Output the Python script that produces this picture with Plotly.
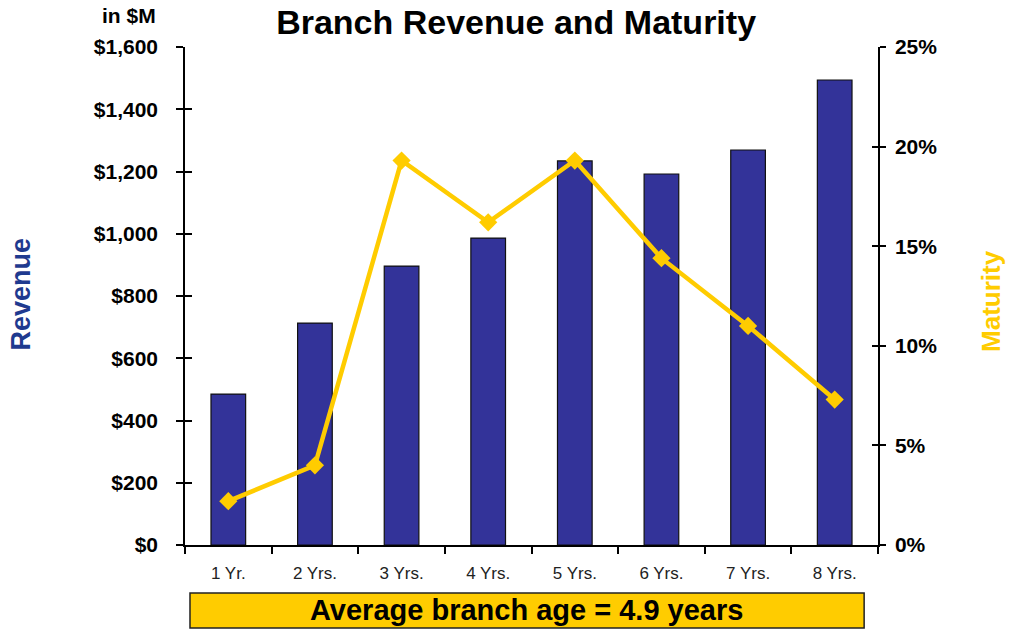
import plotly.graph_objects as go

# Branch age buckets, revenue ($M) and maturity share (%)
categories = ["1 Yr.", "2 Yrs.", "3 Yrs.", "4 Yrs.", "5 Yrs.", "6 Yrs.", "7 Yrs.", "8 Yrs."]
revenue = [485, 713, 896, 986, 1234, 1192, 1269, 1494]
maturity = [2.2, 4.0, 19.3, 16.2, 19.3, 14.4, 11.0, 7.3]
revenue_ticks = [0, 200, 400, 600, 800, 1000, 1200, 1400, 1600]
maturity_ticks = [0, 5, 10, 15, 20, 25]

BAR = "#333399"
GOLD = "#FFCC00"
NAVY = "#1F3A8F"
FONT = "Liberation Sans, Arial, sans-serif"

fig = go.Figure()
fig.add_trace(go.Bar(
    x=categories, y=revenue, width=0.4,
    marker=dict(color=BAR, line=dict(color="#111111", width=1.2)),
    yaxis="y", showlegend=False, hoverinfo="x+y",
))
fig.add_trace(go.Scatter(
    x=categories, y=maturity, mode="lines+markers",
    line=dict(color=GOLD, width=4.5),
    marker=dict(symbol="diamond", size=14, color=GOLD),
    yaxis="y2", showlegend=False,
))

tickfont = dict(family=FONT, size=21, color="#000000")

fig.update_layout(
    width=1010, height=631,
    margin=dict(l=185, r=132, t=47, b=86),
    paper_bgcolor="white", plot_bgcolor="white",
    title=dict(
        text="<b>Branch Revenue and Maturity</b>",
        font=dict(family=FONT, size=34, color="#000000"),
        x=0.511, xref="container", xanchor="center",
        y=0.965, yref="container", yanchor="middle",
    ),
    xaxis=dict(
        type="category", range=[-0.5, 7.5],
        showline=True, linecolor="#000000", linewidth=1.5,
        ticks="outside", tickson="boundaries", ticklen=7, tickwidth=1.5, tickcolor="#000000",
        tickfont=dict(family=FONT, size=17, color="#222222"),
        ticklabelstandoff=12,
        showgrid=False, zeroline=False,
    ),
    yaxis=dict(
        range=[0, 1600], tickvals=revenue_ticks,
        ticktext=[f"<b>${v:,}</b>" for v in revenue_ticks],
        showline=True, linecolor="#000000", linewidth=1.5,
        ticks="outside", ticklen=7, tickwidth=1.5, tickcolor="#000000",
        ticklabelstandoff=14,
        tickfont=tickfont, showgrid=False, zeroline=False,
    ),
    yaxis2=dict(
        range=[0, 25], tickvals=maturity_ticks,
        ticktext=[f"<b>{v}%</b>" for v in maturity_ticks],
        overlaying="y", side="right",
        showline=True, linecolor="#000000", linewidth=1.5,
        ticks="outside", ticklen=6, tickwidth=1.5, tickcolor="#000000",
        ticklabelstandoff=5,
        tickfont=tickfont, showgrid=False, zeroline=False,
    ),
    # inner halves of the crossing tick marks
    yaxis3=dict(
        range=[0, 1600], tickvals=revenue_ticks, overlaying="y", side="left",
        ticks="inside", ticklen=7, tickwidth=1.5, tickcolor="#000000",
        showticklabels=False, showline=False, showgrid=False, zeroline=False,
    ),
    yaxis4=dict(
        range=[0, 25], tickvals=maturity_ticks, overlaying="y", side="right",
        ticks="inside", ticklen=6, tickwidth=1.5, tickcolor="#000000",
        showticklabels=False, showline=False, showgrid=False, zeroline=False,
    ),
)

# invisible traces so the tick-only axes render
fig.add_trace(go.Scatter(x=[categories[0]], y=[0], yaxis="y3", mode="markers",
                         marker=dict(opacity=0), showlegend=False, hoverinfo="skip"))
fig.add_trace(go.Scatter(x=[categories[0]], y=[0], yaxis="y4", mode="markers",
                         marker=dict(opacity=0), showlegend=False, hoverinfo="skip"))

# summary banner below the axis
fig.add_shape(type="rect", xref="paper", yref="paper",
              x0=0.0072, x1=0.98, y0=-0.1667, y1=-0.0964,
              fillcolor=GOLD, line=dict(color="#222222", width=1.5), layer="above")
fig.add_annotation(text="<b>Average branch age = 4.9 years</b>",
                   xref="paper", yref="paper", x=0.4935, y=-0.1315,
                   xanchor="center", yanchor="middle", showarrow=False,
                   font=dict(family=FONT, size=29, color="#000000"))

fig.add_annotation(text="<b>in $M</b>", xref="paper", yref="paper",
                   x=-0.0385, y=1.064, xanchor="right", yanchor="middle", showarrow=False,
                   font=dict(family=FONT, size=21, color="#000000"))
fig.add_annotation(text="<b>Revenue</b>", xref="paper", yref="paper",
                   x=-0.2367, y=0.505, xanchor="center", yanchor="middle", showarrow=False,
                   textangle=-90, font=dict(family=FONT, size=27, color=NAVY))
fig.add_annotation(text="<b>Maturity</b>", xref="paper", yref="paper",
                   x=1.163, y=0.49, xanchor="center", yanchor="middle", showarrow=False,
                   textangle=-90, font=dict(family=FONT, size=26, color=GOLD))

fig.write_html("out.html")
